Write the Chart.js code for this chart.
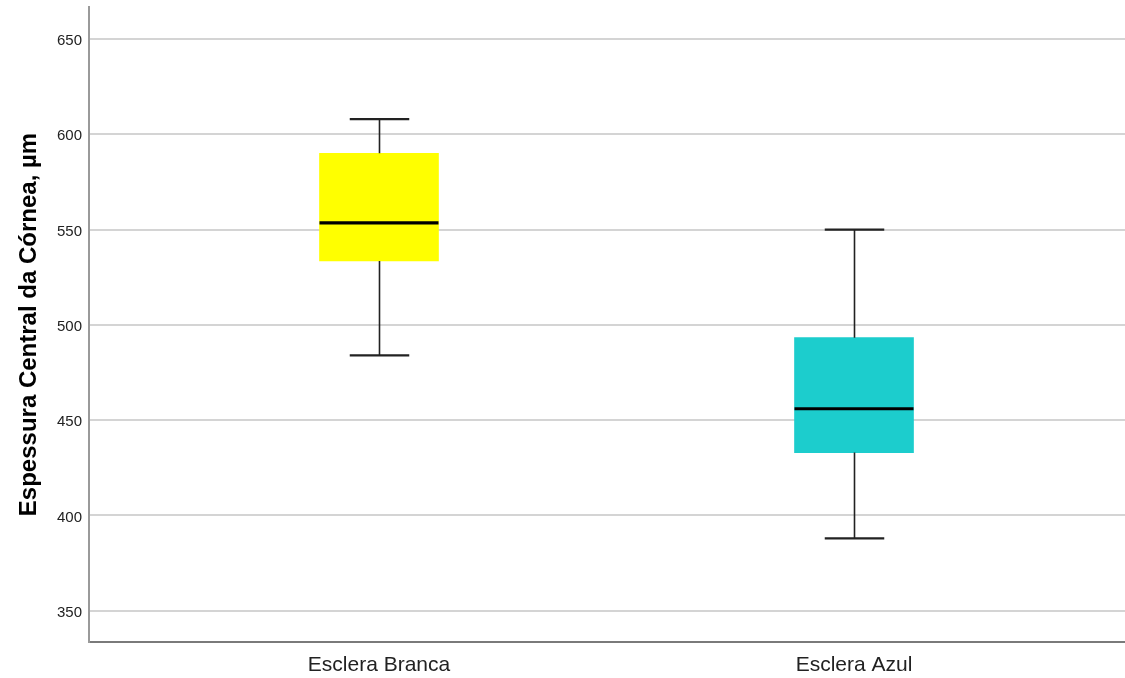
<!DOCTYPE html>
<html lang="pt">
<head>
<meta charset="utf-8">
<title>Espessura Central da Córnea</title>
<script src="https://cdn.jsdelivr.net/npm/chart.js@4/dist/chart.umd.min.js"></script>
<style>
  html, body { margin: 0; padding: 0; background: #ffffff; }
  canvas { display: block; }
</style>
</head>
<body>
<canvas id="chart" width="1125" height="678"></canvas>
<script>
// Groups and their five-number summaries (µm)
const categories = ['Esclera Branca', 'Esclera Azul'];
const whiskerLow = [484, 388];
const quartile1 = [533.5, 433];
const medians = [553.5, 456];
const quartile3 = [590, 493.3];
const whiskerHigh = [608, 550];
const yTicks = [350, 400, 450, 500, 550, 600, 650];

const boxColors = ['#ffff00', '#1ccdcd'];

// Whiskers, caps and median lines drawn on top of the floating-bar boxes
const boxplotExtras = {
  id: 'boxplotExtras',
  afterDatasetsDraw(chart) {
    const ctx = chart.ctx;
    const y = chart.scales.y;
    const meta = chart.getDatasetMeta(0);
    meta.data.forEach((bar, i) => {
      const cx = Math.round(bar.x) + 0.5;
      const half = bar.width / 2;
      const capHalf = bar.width / 4;
      const pLow = y.getPixelForValue(whiskerLow[i]);
      const pQ1 = y.getPixelForValue(quartile1[i]);
      const pMed = y.getPixelForValue(medians[i]);
      const pQ3 = y.getPixelForValue(quartile3[i]);
      const pHigh = y.getPixelForValue(whiskerHigh[i]);
      ctx.save();
      ctx.strokeStyle = '#222222';
      ctx.lineWidth = 1.6;
      ctx.beginPath();
      ctx.moveTo(cx, pQ3); ctx.lineTo(cx, pHigh);
      ctx.moveTo(cx, pQ1); ctx.lineTo(cx, pLow);
      ctx.stroke();
      ctx.lineWidth = 2.2;
      ctx.beginPath();
      ctx.moveTo(cx - capHalf, pHigh); ctx.lineTo(cx + capHalf, pHigh);
      ctx.moveTo(cx - capHalf, pLow); ctx.lineTo(cx + capHalf, pLow);
      ctx.stroke();
      ctx.strokeStyle = '#000000';
      ctx.lineWidth = 3.2;
      ctx.beginPath();
      ctx.moveTo(bar.x - half, pMed); ctx.lineTo(bar.x + half, pMed);
      ctx.stroke();
      ctx.restore();
    });
  }
};

new Chart(document.getElementById('chart'), {
  type: 'bar',
  data: {
    datasets: [{
      data: categories.map((c, i) => ({ x: i + 1, y: [quartile1[i], quartile3[i]] })),
      backgroundColor: boxColors,
      borderWidth: 0,
      barThickness: 119
    }]
  },
  options: {
    responsive: false,
    devicePixelRatio: 1,
    animation: false,
    layout: { padding: { top: 7, right: 0, bottom: 0, left: 0 } },
    plugins: {
      legend: { display: false },
      tooltip: { enabled: false }
    },
    scales: {
      x: {
        type: 'linear',
        offset: false,
        min: 0.3895,
        max: 2.5705,
        afterBuildTicks(scale) {
          scale.ticks = categories.map((c, i) => ({ value: i + 1 }));
        },
        afterFit(scale) {
          scale.height = 36;
          scale.paddingLeft = 0;
          scale.paddingRight = 0;
        },
        grid: { display: false, drawTicks: false, offset: false },
        border: { display: true, color: '#7a7a7a', width: 2 },
        ticks: {
          autoSkip: false,
          maxRotation: 0,
          padding: 11,
          color: '#222222',
          font: { family: '"Liberation Sans", Arial, sans-serif', size: 21 },
          callback: (v) => categories[v - 1] || ''
        }
      },
      y: {
        min: 333.6,
        max: 666.8,
        afterBuildTicks(scale) {
          scale.ticks = yTicks.map(v => ({ value: v }));
        },
        afterFit(scale) {
          scale.width = 89;
          scale.paddingTop = 0;
          scale.paddingBottom = 0;
        },
        grid: { color: '#d4d4d4', lineWidth: 2, drawTicks: false },
        border: { display: true, color: '#9a9a9a', width: 2 },
        ticks: {
          padding: 7,
          labelOffset: 2,
          color: '#222222',
          font: { family: '"Liberation Sans", Arial, sans-serif', size: 15 }
        },
        title: {
          display: true,
          text: 'Espessura Central da Córnea, µm',
          color: '#000000',
          padding: { top: 15, bottom: 0 },
          font: { family: '"Liberation Sans", Arial, sans-serif', size: 24, weight: 'bold' }
        }
      }
    }
  },
  plugins: [boxplotExtras]
});
</script>
</body>
</html>
